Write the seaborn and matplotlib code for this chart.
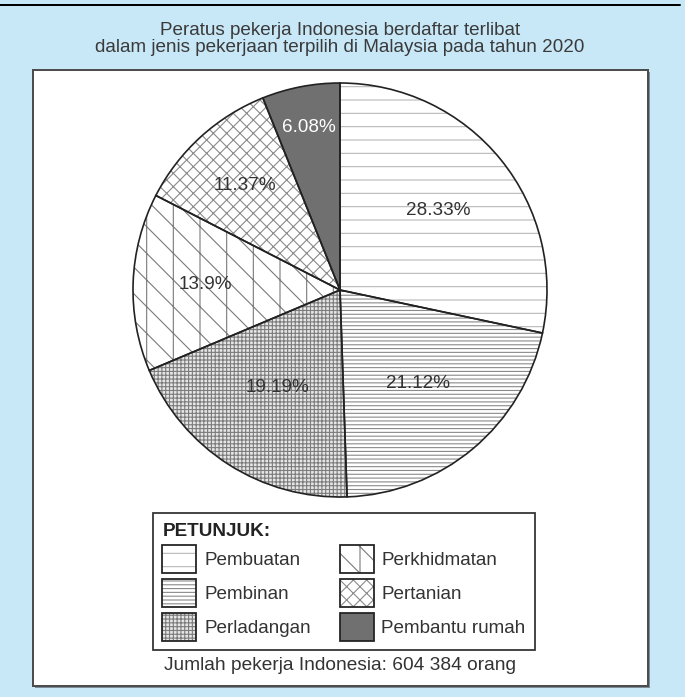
import matplotlib
matplotlib.use("Agg")
import matplotlib.pyplot as plt
import seaborn as sns
import numpy as np
from matplotlib.patches import Patch, Rectangle
from matplotlib.lines import Line2D

# Data
sectors = ["Pembuatan", "Pembinan", "Perladangan", "Perkhidmatan", "Pertanian", "Pembantu rumah"]
percent = [28.33, 21.12, 19.19, 13.9, 11.37, 6.08]
title = ("Peratus pekerja Indonesia berdaftar terlibat\n"
         "dalam jenis pekerjaan terpilih di Malaysia pada tahun 2020")
caption = "Jumlah pekerja Indonesia: 604 384 orang"
legend_title = "PETUNJUK:"

# Style
sns.set_theme(style="white")
plt.rcParams['font.family'] = ['Liberation Sans', 'DejaVu Sans']
plt.rcParams['hatch.linewidth'] = 0.5

face = ['white', 'white', '#e6e6e6', 'white', 'white', '#707070']
hatch_col = ['#b8b8b8', '#8a8a8a', '#7c7c7c', '#7a7a7a', '#8a8a8a', '#707070']
hatches = ['--', '-------', '+++++++', '|\\\\', 'xxxx', '']
pct_dist = [0.61, 0.59, 0.56, 0.65, 0.68, 0.80]
pct_col = ['#333333'] * 5 + ['white']

W, H, DPI = 685, 697, 160
fig = plt.figure(figsize=(W / DPI, H / DPI), dpi=DPI, facecolor='#c8e8f8')

# white panel with shadow
fig.add_artist(Rectangle((35 / W, 1 - 688 / H), (648 - 33) / W, (686 - 70) / H,
                         transform=fig.transFigure, fc='#7d8c96', ec='none', zorder=0))
fig.add_artist(Rectangle((33 / W, 1 - 686 / H), (648 - 33) / W, (686 - 70) / H,
                         transform=fig.transFigure, fc='white', ec='#4d4d4d', lw=0.9, zorder=0))
fig.add_artist(Line2D([0, 680 / W], [1 - 5 / H] * 2, transform=fig.transFigure,
                      color='black', lw=0.9))

# Pie
cx, cy, r = 340, 290, 207
ax = fig.add_axes([(cx - r) / W, 1 - (cy + r) / H, 2 * r / W, 2 * r / H])
wedges, _ = ax.pie(percent, startangle=90, counterclock=False, colors=face,
                   wedgeprops=dict(linewidth=0))
for w, h, hc in zip(wedges, hatches, hatch_col):
    w.set_hatch(h)
    w.set_edgecolor(hc)
    w.set_linewidth(0)
outl, _ = ax.pie(percent, startangle=90, counterclock=False,
                 wedgeprops=dict(fill=False, edgecolor='#222222', linewidth=0.75))
for w in outl:
    w.set_clip_on(False)

for w, v, d, c in zip(wedges, percent, pct_dist, pct_col):
    ang = np.deg2rad((w.theta1 + w.theta2) / 2)
    ax.text(d * np.cos(ang), d * np.sin(ang), f"{v:g}%", ha='center', va='center',
            fontsize=8.5, color=c)
ax.set_xlim(-1, 1)
ax.set_ylim(-1, 1)
ax.axis('off')

# Title and caption
fig.text(cx / W, 1 - 39 / H, title, ha='center', va='center', fontsize=8.5,
         color='#3a3a3a', linespacing=1.0)
fig.text(cx / W, 1 - 665 / H, caption, ha='center', va='center', fontsize=8.6,
         color='#333333')

# Legend
handles = [(Patch(fc=f, ec=hc, hatch=h, lw=0), Patch(fill=False, ec='#222222', lw=0.8))
           for f, hc, h in zip(face, hatch_col, hatches)]
leg = fig.legend(handles, sectors, ncol=2, loc='lower left',
                 bbox_to_anchor=(153 / W, 1 - 650 / H, 382 / W, 140 / H), mode='expand',
                 borderaxespad=0,
                 title=legend_title, title_fontproperties={'weight': 'bold', 'size': 8.5},
                 alignment='left', fontsize=8.5, handlelength=1.8, handleheight=1.9,
                 handletextpad=0.4, labelspacing=0.3, borderpad=0.5, fancybox=False,
                 edgecolor='#333333', framealpha=1)
leg.get_frame().set_linewidth(0.8)
plt.setp(leg.get_texts(), color='#333333')
leg.get_title().set_color('#222222')

fig.savefig('out.png', dpi=DPI)
